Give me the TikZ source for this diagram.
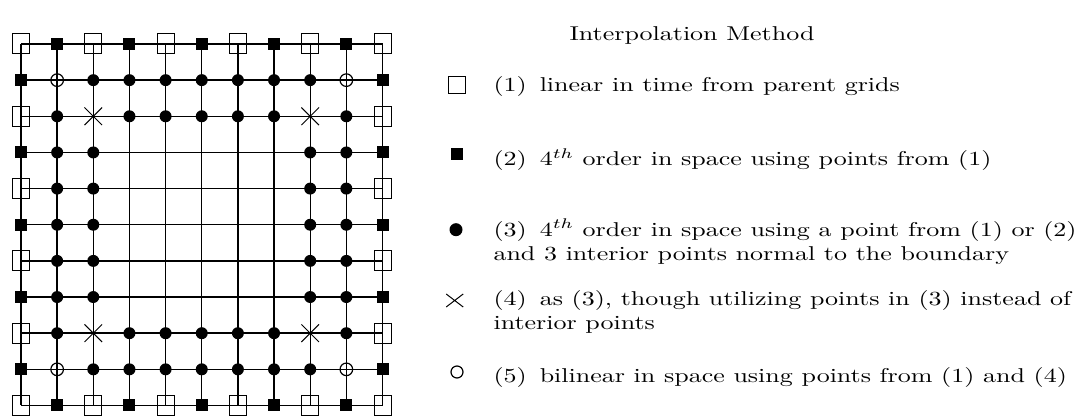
\documentclass[tikz,border=0pt]{standalone}
\usetikzlibrary{shapes.misc}

\begin{document}
\begin{tikzpicture}
         [x=0.5pt, y=0.5pt,
          grid line/.style={line width=0.7pt},
          open box/.style={draw, line width=0.5pt, minimum width=8.5pt, minimum height=10pt, inner sep=0pt},
          solid box/.style={fill, minimum size=6pt, inner sep=0pt},
          dot/.style={circle, fill, minimum size=6pt, inner sep=0pt},
          ring/.style={circle, draw, line width=0.6pt, minimum size=6.3pt, inner sep=0pt},
          cross node/.style={cross out, draw, line width=0.5pt, minimum size=8.3pt, inner sep=0pt},
          legend text/.style={anchor=base west, xscale=1.3, align=left, inner sep=0pt}]
         \useasboundingbox (0,0) rectangle (1082,416);

         % grid points
         \foreach \i in {0,...,10}
            \foreach \j in {0,...,10}
               \coordinate (g-\i-\j) at ({21+36.15*\j},{372-36.15*\i});

         \foreach \k in {0,...,10} {
            \draw[grid line] (g-\k-0) -- (g-\k-10);
            \draw[grid line] (g-0-\k) -- (g-10-\k);
         }

         % (1) and (2) on the boundary
         \foreach \k in {0,2,...,10} {
            \node[open box] (m-0-\k) at (g-0-\k) {};
            \node[open box] (m-10-\k) at (g-10-\k) {};
         }
         \foreach \k in {2,4,6,8} {
            \node[open box] (m-\k-0) at (g-\k-0) {};
            \node[open box] (m-\k-10) at (g-\k-10) {};
         }
         \foreach \k in {1,3,...,9} {
            \node[solid box] (m-0-\k) at (g-0-\k) {};
            \node[solid box] (m-10-\k) at (g-10-\k) {};
            \node[solid box] (m-\k-0) at (g-\k-0) {};
            \node[solid box] (m-\k-10) at (g-\k-10) {};
         }

         % (3)
         \foreach \i in {1,9}
            \foreach \j in {2,...,8}
               \node[dot] (m-\i-\j) at (g-\i-\j) {};
         \foreach \i in {2,8}
            \foreach \j in {1,3,4,5,6,7,9}
               \node[dot] (m-\i-\j) at (g-\i-\j) {};
         \foreach \i in {3,...,7}
            \foreach \j in {1,2,8,9}
               \node[dot] (m-\i-\j) at (g-\i-\j) {};

         % (4) and (5)
         \foreach \i/\j in {2/2,2/8,8/2,8/8}
            \node[cross node] (m-\i-\j) at (g-\i-\j) {};
         \foreach \i/\j in {1/1,1/9,9/1,9/9}
            \node[ring] (m-\i-\j) at (g-\i-\j) {};

         % legend
         \node[legend text, anchor=base] (title) at (692,375.6) {Interpolation Method};

         \node[open box, minimum width=8.8pt, minimum height=8.4pt] (k1) at (457,331) {};
         \node[solid box, minimum size=6.3pt] (k2) at (457,262) {};
         \node[dot, minimum size=6.5pt] (k3) at (456,186.3) {};
         \node[cross node, minimum width=8pt, minimum height=6pt] (k4) at (454.7,115.5) {};
         \node[ring, minimum size=6pt] (k5) at (457,44) {};

         \node[legend text] (t1) at (493,324) {(1)\enspace linear in time from parent grids};
         \node[legend text] (t2) at (493,250) {(2)\enspace $4^{th}$ order in space using points from (1)};
         \node[legend text, anchor=north west] (t3) at (493,197.3) {(3)\enspace $4^{th}$ order in space using a point from (1) or (2)\\and 3 interior points normal to the boundary};
         \node[legend text, anchor=north west] (t4) at (493,126) {(4)\enspace as (3), though utilizing points in (3) instead of\\interior points};
         \node[legend text] (t5) at (493,33.3) {(5)\enspace bilinear in space using points from (1) and (4)};
      \end{tikzpicture}
\end{document}
